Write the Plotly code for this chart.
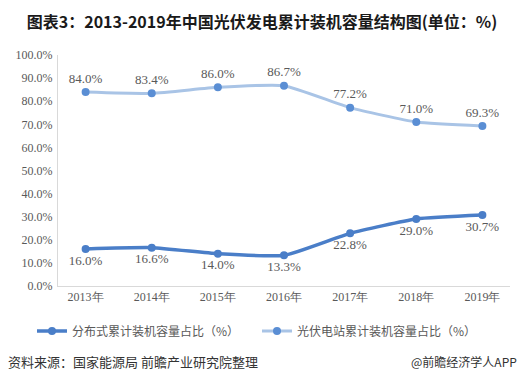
import plotly.graph_objects as go

years = ["2013年", "2014年", "2015年", "2016年", "2017年", "2018年", "2019年"]
distributed = [16.0, 16.6, 14.0, 13.3, 22.8, 29.0, 30.7]
station = [84.0, 83.4, 86.0, 86.7, 77.2, 71.0, 69.3]
name_dist = "分布式累计装机容量占比（%）"
name_station = "光伏电站累计装机容量占比（%）"
yticks = [0, 10, 20, 30, 40, 50, 60, 70, 80, 90, 100]

serif = "Liberation Serif, Times New Roman, serif"
cjk = "Noto Sans CJK SC, sans-serif"
grey = "#595959"

fig = go.Figure()
fig.add_trace(go.Scatter(
    x=years, y=distributed, name=name_dist, mode="lines+markers+text",
    line=dict(color="#4a7ec8", width=3.5, shape="spline", smoothing=0.5),
    marker=dict(color="#4a7ec8", size=8),
    text=[f"{v:.1f}%" for v in distributed], textposition="bottom center",
    textfont=dict(family=serif, size=13, color=grey),
))
fig.add_trace(go.Scatter(
    x=years, y=station, name=name_station, mode="lines+markers+text",
    line=dict(color="#a9c4e6", width=3, shape="spline", smoothing=0.5),
    marker=dict(color="#5a8ed4", size=8),
    text=[f"{v:.1f}%" for v in station], textposition="top center",
    textfont=dict(family=serif, size=13, color=grey),
))

H = 383
top, bottom = 55, 286
ph = bottom - top

fig.update_layout(
    width=524, height=H,
    margin=dict(l=58, r=14, t=top, b=H - bottom, autoexpand=False),
    paper_bgcolor="white", plot_bgcolor="white",
    showlegend=True,
    legend=dict(orientation="h", x=0.5 - 27 / 452, xanchor="center", y=-(331 - bottom) / ph,
                yanchor="middle", font=dict(family=cjk, size=12, color=grey),
                itemwidth=30, tracegroupgap=0, entrywidth=180),
    title=dict(text="<b>图表3：2013-2019年中国光伏发电累计装机容量结构图(单位：%)</b>",
               x=0.5, xanchor="center", y=1 - 22 / H, yanchor="middle",
               font=dict(family=cjk, size=16, color="#1a1a1a")),
    xaxis=dict(type="category", showgrid=False, showline=True, linecolor="#d9d9d9",
               linewidth=1, ticks="", tickfont=dict(family=serif, size=12, color=grey),
               zeroline=False, automargin=False),
    yaxis=dict(range=[0, 100], tickvals=yticks, ticktext=[f"{v:.1f}%" for v in yticks],
               showgrid=False, showline=True, linecolor="#d9d9d9", linewidth=1,
               ticks="", tickfont=dict(family=serif, size=12, color=grey),
               zeroline=False, ticklabelstandoff=2, automargin=False),
    annotations=[
        dict(text="资料来源：国家能源局 前瞻产业研究院整理", xref="paper", yref="paper",
             x=-52 / 452, y=-(361 - bottom) / ph, xanchor="left", yanchor="middle",
             showarrow=False, font=dict(family=cjk, size=13, color="#333333")),
        dict(text="@前瞻经济学人APP", xref="paper", yref="paper",
             x=(519 - 58) / 452, y=-(361 - bottom) / ph, xanchor="right", yanchor="middle",
             showarrow=False, font=dict(family=cjk, size=12, color="#333333")),
    ],
)

fig.write_html("out.html", config={"displayModeBar": False},
               post_script="document.body.style.margin='0';document.body.style.overflow='hidden';")
